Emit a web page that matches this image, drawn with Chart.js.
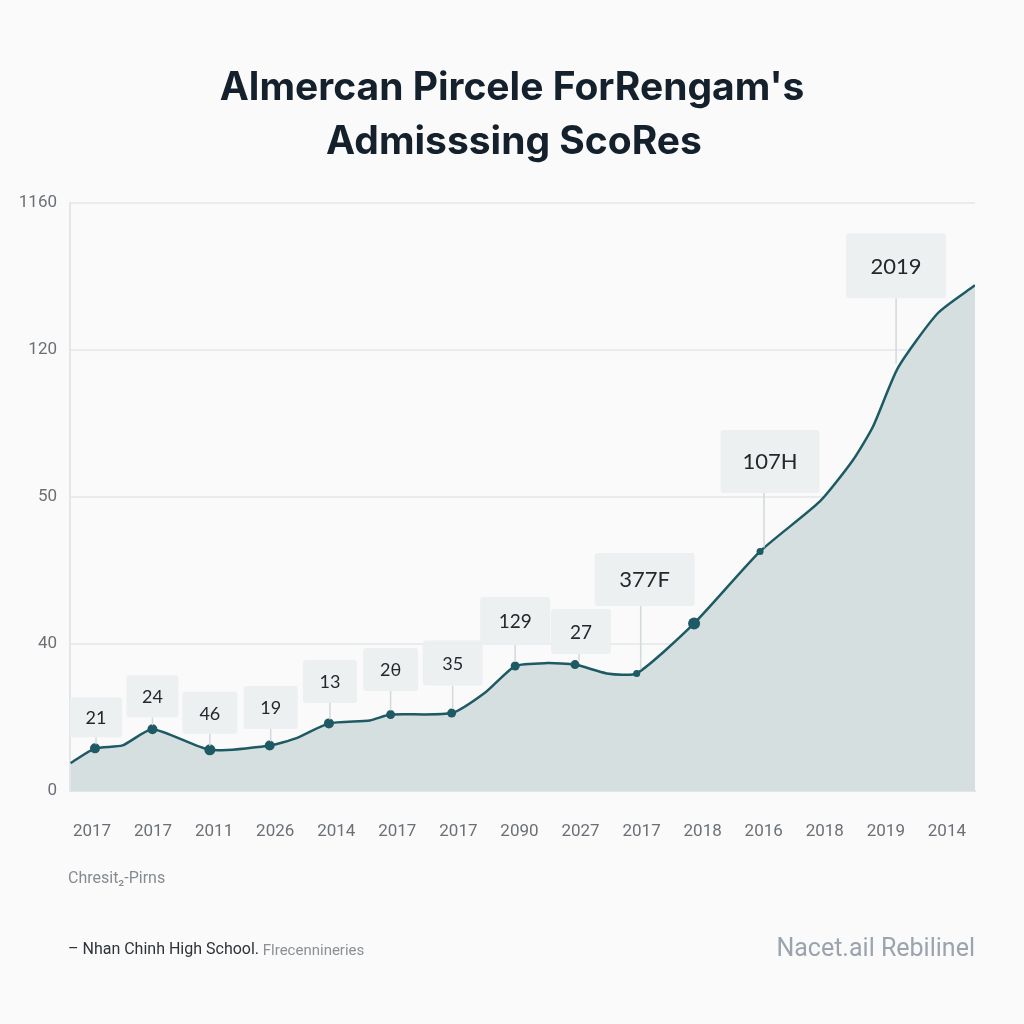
<!DOCTYPE html>
<html>
<head>
<meta charset="utf-8">
<script src="https://cdn.jsdelivr.net/npm/chart.js@4"></script>
<style>
  html, body { margin: 0; padding: 0; background: #fafafa; }
  canvas { display: block; }
</style>
</head>
<body>
<canvas id="scoreChart" width="1024" height="1024"></canvas>
<script>
// category labels under the axis (one per unit on x)
const xLabels = ['2017', '2017', '2011', '2026', '2014', '2017', '2017', '2090', '2027', '2017', '2018', '2016', '2018', '2019', '2014'];
// y tick labels (evenly spaced, one per unit on y)
const yLabels = ['0', '40', '50', '120', '1160'];

// line samples, x in label units, y in tick units
const lineX = [-0.35, 0.05, 0.5, 0.99, 1.93, 2.91, 3.35, 3.88, 4.55, 4.89, 5.89, 6.44, 6.93, 7.45, 7.91, 8.43, 8.92, 9.86, 10.94, 11.92, 12.46, 12.79, 13.2, 13.85, 14.46];
const lineY = [0.19, 0.29, 0.31, 0.42, 0.28, 0.31, 0.36, 0.46, 0.48, 0.52, 0.53, 0.67, 0.85, 0.87, 0.86, 0.80, 0.80, 1.14, 1.63, 1.97, 2.25, 2.48, 2.88, 3.25, 3.44];
// marker size per sample (0 = no marker)
const markerSize = [0, 5, 0, 5, 5.5, 5, 0, 5, 0, 4.5, 4.5, 0, 4.5, 0, 4.5, 0, 3.5, 6, 3.5, 0, 0, 0, 0, 0, 0];

// callout texts and the sample they point at
const calloutText = ['21', '24', '46', '19', '13', '2θ', '35', '129', '27', '377F', '107H', '2019'];
const calloutIndex = [1, 3, 4, 5, 7, 9, 10, 12, 14, 16, 18, 22];

// callout box styling: offset from point, size, font size
const calloutStyle = [
    { dx: 1, dy: -31, w: 52, h: 40, fs: 18 },
    { dx: 0, dy: -33, w: 52, h: 42, fs: 18 },
    { dx: 0, dy: -37, w: 55, h: 42, fs: 18 },
    { dx: 1, dy: -38, w: 54, h: 43, fs: 18 },
    { dx: 1, dy: -42, w: 54, h: 43, fs: 18 },
    { dx: 0, dy: -45, w: 55, h: 43, fs: 18 },
    { dx: 1, dy: -50, w: 60, h: 45, fs: 18 },
    { dx: 0, dy: -45, w: 70, h: 48, fs: 19 },
    { dx: 6, dy: -33, w: 60, h: 45, fs: 19 },
    { dx: 8, dy: -94, w: 100, h: 53, fs: 22 },
    { dx: 10, dy: -90, w: 99, h: 63, fs: 22 },
    { dx: -2, dy: -102, w: 100, h: 65, fs: 22 }
];

const points = lineX.map((x, i) => ({ x: x, y: lineY[i] }));

const calloutPlugin = {
    id: 'callouts',
    afterDatasetsDraw(chart) {
        const ctx = chart.ctx;
        const meta = chart.getDatasetMeta(0);
        ctx.save();
        calloutIndex.forEach((idx, k) => {
            const pt = meta.data[idx];
            const s = calloutStyle[k];
            const cx = pt.x + s.dx;
            const cy = pt.y + s.dy;
            const bottom = cy + s.h / 2;
            // leader line
            if (bottom < pt.y - 4) {
                ctx.strokeStyle = '#d3d8da';
                ctx.lineWidth = 1.5;
                ctx.beginPath();
                ctx.moveTo(pt.x + Math.min(s.dx, 4), bottom);
                ctx.lineTo(pt.x + Math.min(s.dx, 4), pt.y - 4);
                ctx.stroke();
            }
            // box
            ctx.fillStyle = 'rgba(236, 239, 240, 0.95)';
            ctx.beginPath();
            ctx.roundRect(cx - s.w / 2, cy - s.h / 2, s.w, s.h, 3);
            ctx.fill();
            ctx.fillStyle = '#23282c';
            ctx.font = s.fs + 'px Lato';
            ctx.textAlign = 'center';
            ctx.textBaseline = 'middle';
            ctx.fillText(calloutText[k], cx, cy + 1);
        });
        ctx.restore();
    }
};

const textPlugin = {
    id: 'pageText',
    afterDraw(chart) {
        const ctx = chart.ctx;
        ctx.save();
        ctx.textBaseline = 'middle';
        ctx.textAlign = 'center';
        ctx.fillStyle = '#14202b';
        ctx.font = 'bold 39px Inter';
        ctx.fillText("Almercan Pircele ForRengam's", 512, 88);
        ctx.fillText('Admisssing ScoRes', 514, 142);

        ctx.textAlign = 'left';
        ctx.fillStyle = '#858b91';
        ctx.font = '16px Roboto';
        ctx.fillText('Chresit\u2082-Pirns', 68, 879);

        ctx.fillStyle = '#2e3338';
        ctx.font = '16px Roboto';
        const lead = '\u2013 Nhan Chinh High School.';
        ctx.fillText(lead, 68, 950);
        const w = ctx.measureText(lead).width;
        ctx.fillStyle = '#8a9096';
        ctx.font = '15px Roboto';
        ctx.fillText(' Flrecennineries', 68 + w, 951);

        ctx.textAlign = 'right';
        ctx.fillStyle = '#9ba4ae';
        ctx.font = '25px Roboto';
        ctx.fillText('Nacet.ail Rebilinel', 975, 950);
        ctx.restore();
    }
};

new Chart(document.getElementById('scoreChart'), {
    type: 'line',
    data: {
        datasets: [{
            data: points,
            borderColor: '#1d5a63',
            borderWidth: 2.5,
            backgroundColor: '#d5dfe0',
            fill: 'origin',
            tension: 0.2,
            pointRadius: markerSize,
            pointBackgroundColor: '#1d5a63',
            pointBorderWidth: 0
        }]
    },
    options: {
        responsive: false,
        animation: false,
        layout: { padding: { top: 203, right: 49, left: 0, bottom: 0 } },
        plugins: {
            legend: { display: false },
            tooltip: { enabled: false }
        },
        scales: {
            x: {
                type: 'linear',
                min: -0.36,
                max: 14.46,
                afterBuildTicks: s => { s.ticks = xLabels.map((_, i) => ({ value: i })); },
                afterFit: s => { s.height = 233; },
                ticks: {
                    callback: v => xLabels[v],
                    color: '#6b7076',
                    font: { size: 17, family: 'Roboto' },
                    padding: 23,
                    maxRotation: 0,
                    autoSkip: false
                },
                grid: { display: false },
                border: { color: '#e4e7e9', width: 2 }
            },
            y: {
                min: 0,
                max: 4,
                afterBuildTicks: s => { s.ticks = yLabels.map((_, i) => ({ value: i })); },
                afterFit: s => { s.width = 70; },
                ticks: {
                    callback: v => yLabels[v],
                    color: '#6b7076',
                    font: { size: 17, family: 'Roboto' },
                    padding: 13
                },
                grid: { color: '#e9ecee', lineWidth: 2, drawTicks: false },
                border: { color: '#e4e7e9', width: 2 }
            }
        }
    },
    plugins: [calloutPlugin, textPlugin]
});
</script>
</body>
</html>
